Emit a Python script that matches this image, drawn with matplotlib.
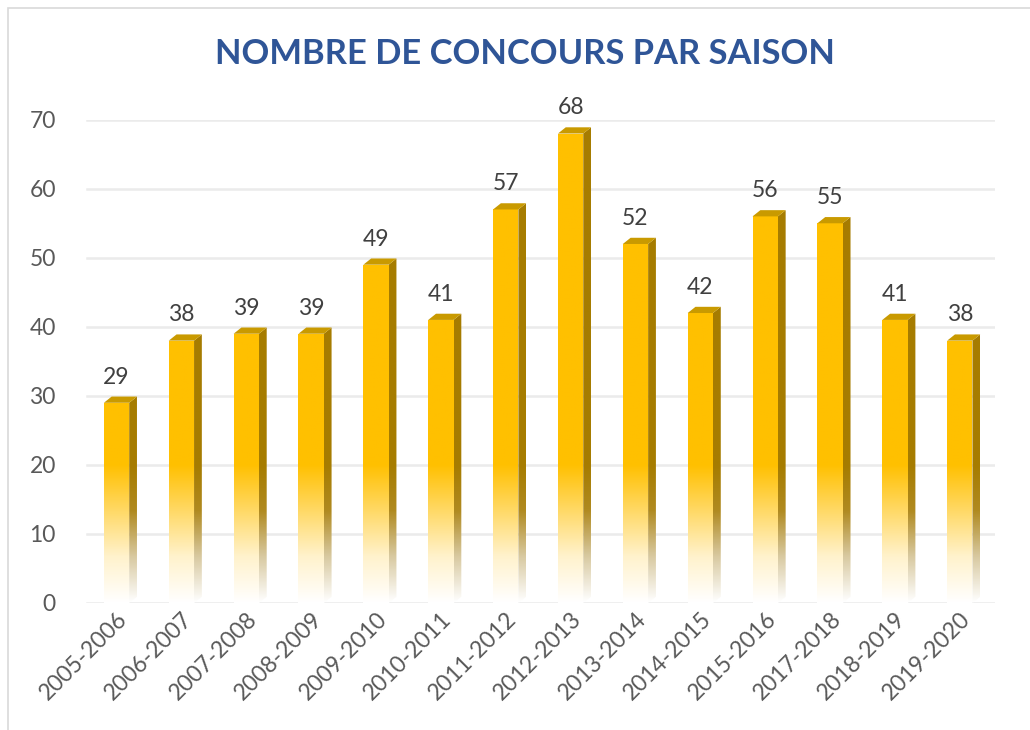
import matplotlib
matplotlib.use("Agg")
import matplotlib.pyplot as plt
import numpy as np
from matplotlib.patches import Polygon, Rectangle
from matplotlib.colors import LinearSegmentedColormap

seasons = ["2005-2006", "2006-2007", "2007-2008", "2008-2009", "2009-2010",
           "2010-2011", "2011-2012", "2012-2013", "2013-2014", "2014-2015",
           "2015-2016", "2017-2018", "2018-2019", "2019-2020"]
counts = [29, 38, 39, 39, 49, 41, 57, 68, 52, 42, 56, 55, 41, 38]
yticks = [0, 10, 20, 30, 40, 50, 60, 70]
title = "NOMBRE DE CONCOURS PAR SAISON"

plt.rcParams['font.family'] = ['Lato', 'DejaVu Sans']

fig = plt.figure(figsize=(10.3, 7.3), dpi=100)
fig.patches.append(Rectangle((0.008, -0.01), 1.2, 0.999, transform=fig.transFigure,
                             fill=False, edgecolor='#D9D9D9', linewidth=1.2))
ax = fig.add_axes([0.0785, 0.174, 0.888, 0.662])

w = 0.39
d = 0.12
dy = 0.9
fade_top = 20.0

front_cmap = LinearSegmentedColormap.from_list('f', ['#FFFFFF', '#FFF2CC', '#FFD966', '#FFC000'])
side_cmap = LinearSegmentedColormap.from_list('s', ['#FFFFFF', '#D8C9A0', '#B08A20', '#A67C00'])

for gy in yticks:
    ax.plot([-0.45, len(seasons) - 0.45], [gy, gy], color='#EBEBEB', lw=1.8, zorder=0)

for i, h in enumerate(counts):
    x0 = i - w / 2
    x1 = i + w / 2
    ys = np.linspace(0, h, 200)
    grad = np.clip(ys / fade_top, 0, 1)[::-1].reshape(-1, 1)
    fpoly = Polygon([(x0, 0), (x1, 0), (x1, h), (x0, h)], closed=True,
                    facecolor='none', edgecolor='none')
    ax.add_patch(fpoly)
    im = ax.imshow(grad, extent=[x0, x1, 0, h], aspect='auto', cmap=front_cmap,
                   vmin=0, vmax=1, zorder=2, interpolation='bilinear')
    im.set_clip_path(fpoly)
    spoly = Polygon([(x1, 0), (x1 + d, dy), (x1 + d, h + dy), (x1, h)], closed=True,
                    facecolor='none', edgecolor='none')
    ax.add_patch(spoly)
    ys2 = np.linspace(0, h + dy, 200)
    grad2 = np.clip(ys2 / fade_top, 0, 1)[::-1].reshape(-1, 1)
    im2 = ax.imshow(grad2, extent=[x1, x1 + d, 0, h + dy], aspect='auto', cmap=side_cmap,
                    vmin=0, vmax=1, zorder=2, interpolation='bilinear')
    im2.set_clip_path(spoly)
    ax.add_patch(Polygon([(x0, h), (x1, h), (x1 + d, h + dy), (x0 + d, h + dy)], closed=True,
                         facecolor='#C99A00', edgecolor='none', zorder=3))
    ax.text(i, h + dy + 1.3, str(h), ha='center', va='bottom', fontsize=16.5, color='#404040')

ax.set_xlim(-0.55, len(seasons) - 0.45)
ax.set_ylim(0, 70)
ax.set_yticks(yticks)
ax.set_yticklabels([str(t) for t in yticks], fontsize=16.5, color='#595959')
ax.set_xticks(range(len(seasons)))
ax.set_xticklabels(seasons, rotation=45, ha='right', rotation_mode='anchor',
                   fontsize=16.5, color='#595959')
ax.tick_params(axis='both', length=0)
ax.tick_params(axis='y', pad=18)
ax.tick_params(axis='x', pad=4)
for s in ax.spines.values():
    s.set_visible(False)

fig.text(0.51, 0.926, title, ha='center', va='center', fontsize=24.8, fontweight='bold',
         color='#2F5597')

fig.savefig("out.png", dpi=100, facecolor='white')
